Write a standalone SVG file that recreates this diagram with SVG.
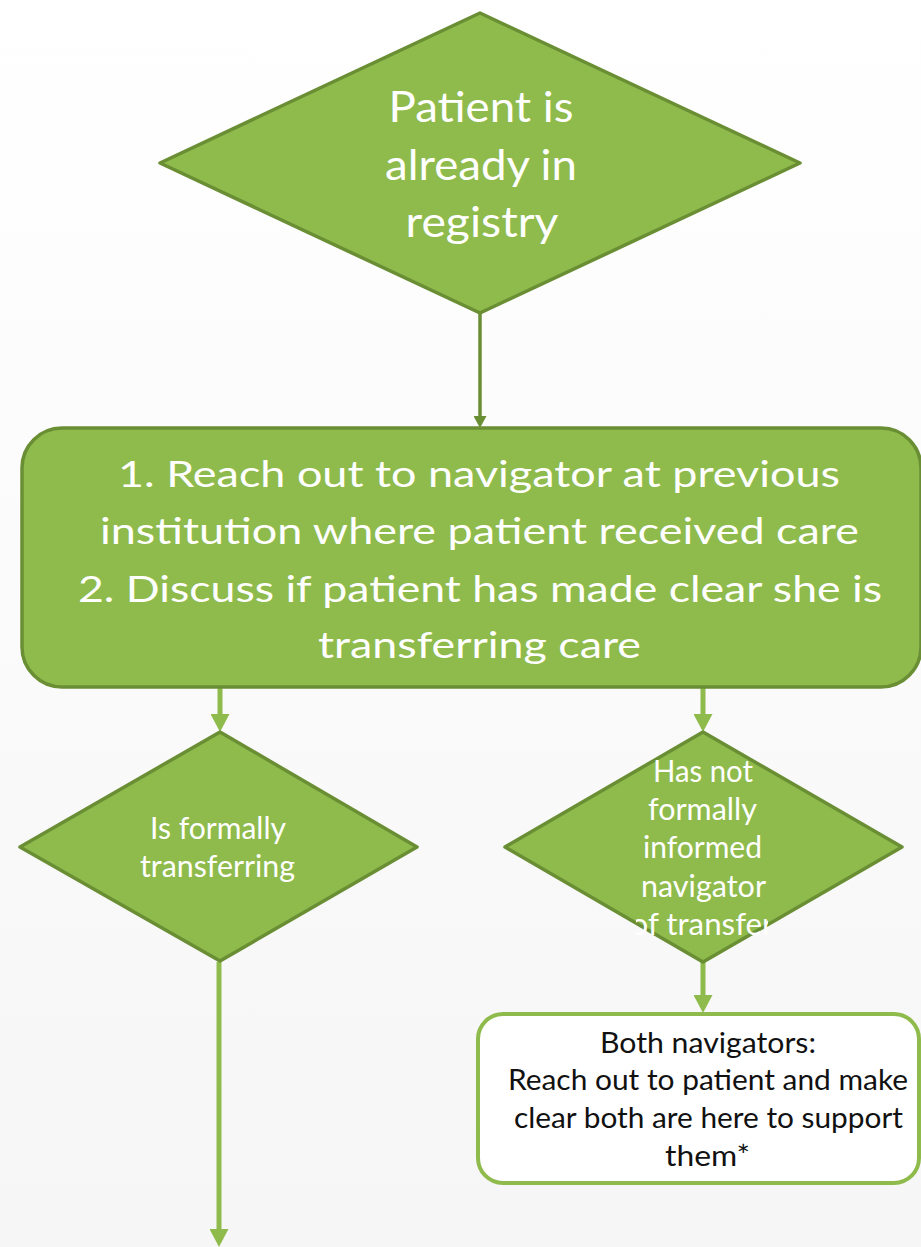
<svg xmlns="http://www.w3.org/2000/svg" width="921" height="1247" viewBox="0 0 921 1247">
<defs>
<linearGradient id="bg" x1="0" y1="0" x2="0" y2="1">
<stop offset="0" stop-color="#ffffff"/>
<stop offset="1" stop-color="#f6f6f6"/>
</linearGradient>
<marker id="ahLight" markerUnits="userSpaceOnUse" viewBox="0 0 18 19" markerWidth="18" markerHeight="19" refX="0" refY="9.5" orient="auto">
<path d="M0,0 L18,9.5 L0,19 Z" fill="#8fbb4c"/>
</marker>
<marker id="ahDark" markerUnits="userSpaceOnUse" viewBox="0 0 12 13" markerWidth="12" markerHeight="13" refX="0" refY="6.5" orient="auto">
<path d="M0,0 L12,6.5 L0,13 Z" fill="#6a8e34"/>
</marker>
<clipPath id="clipTr">
<rect x="636" y="740" width="132" height="220"/>
</clipPath>
</defs>
<style>
.shape{fill:#8fbb4c;stroke:#6a8e34;stroke-width:3.5;stroke-linejoin:round}
.wt{fill:#ffffff;font-family:Lato,"Open Sans",sans-serif;text-anchor:middle}
.bt{fill:#111111;font-family:Lato,"Open Sans",sans-serif;text-anchor:middle}
.cl{stroke:#8fbb4c;stroke-width:5;fill:none}
.cd{stroke:#6a8e34;stroke-width:3.5;fill:none}
</style>
<rect x="0" y="0" width="921" height="1247" fill="url(#bg)"/>

<g id="connectors">
<path class="cd" d="M480,313 L480,416" marker-end="url(#ahDark)"/>
<path class="cl" d="M220,687 L220,714" marker-end="url(#ahLight)"/>
<path class="cl" d="M703,687 L703,714" marker-end="url(#ahLight)"/>
<path class="cl" d="M703,962 L703,995" marker-end="url(#ahLight)"/>
<path class="cl" d="M219,962 L219,1229" marker-end="url(#ahLight)"/>
</g>

<g id="node-registry">
<polygon class="shape" points="480,13 800,163 480,313 160,163"/>
<text class="wt" font-size="43" x="481" y="122" textLength="185" lengthAdjust="spacingAndGlyphs">Patient is</text>
<text class="wt" font-size="43" x="481" y="180" textLength="192" lengthAdjust="spacingAndGlyphs">already in</text>
<text class="wt" font-size="43" x="482" y="237" textLength="153" lengthAdjust="spacingAndGlyphs">registry</text>
</g>

<g id="node-reach-out">
<rect class="shape" x="22" y="428" width="899" height="259" rx="40" ry="40"/>
<text class="wt" font-size="37" x="479" y="487" textLength="722" lengthAdjust="spacingAndGlyphs">1. Reach out to navigator at previous</text>
<text class="wt" font-size="37" x="479.5" y="544" textLength="759" lengthAdjust="spacingAndGlyphs">institution where patient received care</text>
<text class="wt" font-size="37" x="480" y="602" textLength="804" lengthAdjust="spacingAndGlyphs">2. Discuss if patient has made clear she is</text>
<text class="wt" font-size="37" x="479.5" y="658" textLength="323" lengthAdjust="spacingAndGlyphs">transferring care</text>
</g>

<g id="node-formally">
<polygon class="shape" points="220,732 417,847 220,961 20,847"/>
<text class="wt" font-size="30" x="218" y="839" textLength="136" lengthAdjust="spacingAndGlyphs">Is formally</text>
<text class="wt" font-size="30" x="217.5" y="877" textLength="155" lengthAdjust="spacingAndGlyphs">transferring</text>
</g>

<g id="node-not-informed">
<polygon class="shape" points="703,732 902,847 703,962 505,847"/>
<text class="wt" font-size="30" x="703" y="782" textLength="100" lengthAdjust="spacingAndGlyphs">Has not</text>
<text class="wt" font-size="30" x="702.5" y="820" textLength="109" lengthAdjust="spacingAndGlyphs">formally</text>
<text class="wt" font-size="30" x="702.5" y="858" textLength="119" lengthAdjust="spacingAndGlyphs">informed</text>
<text class="wt" font-size="30" x="703.5" y="897" textLength="125" lengthAdjust="spacingAndGlyphs">navigator</text>
<text class="wt" font-size="30" x="702" y="935" textLength="143" lengthAdjust="spacingAndGlyphs" clip-path="url(#clipTr)">of transfer</text>
</g>

<g id="node-both-navigators">
<rect x="478" y="1014" width="441" height="169" rx="25" ry="25" fill="#ffffff" stroke="#8fbb4c" stroke-width="4"/>
<text class="bt" font-size="29" x="708" y="1053" textLength="216" lengthAdjust="spacingAndGlyphs">Both navigators:</text>
<text class="bt" font-size="29" x="708" y="1090" textLength="400" lengthAdjust="spacingAndGlyphs">Reach out to patient and make</text>
<text class="bt" font-size="29" x="708.5" y="1128" textLength="389" lengthAdjust="spacingAndGlyphs">clear both are here to support</text>
<text class="bt" font-size="29" x="707.5" y="1166" textLength="85" lengthAdjust="spacingAndGlyphs">them*</text>
</g>
</svg>
